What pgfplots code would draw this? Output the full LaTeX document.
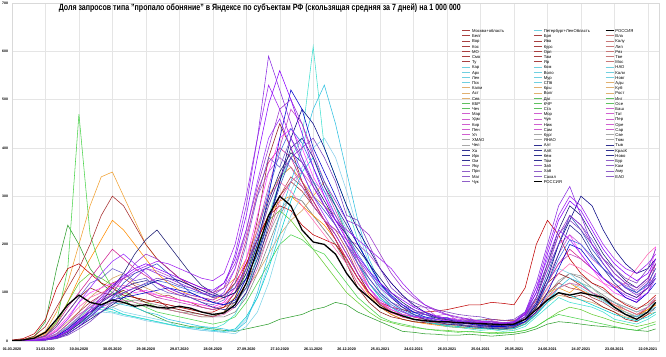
\documentclass[border=0pt]{standalone}
\usepackage{fontspec}
\setmainfont{Liberation Sans}
\usepackage{graphicx}
\usepackage{pgfplots}
\usepackage{pgfplotstable}
\pgfplotsset{compat=1.18}

\definecolor{cCa}{HTML}{C00000}
\definecolor{cCb}{HTML}{8B1A1A}
\definecolor{cCc}{HTML}{B03A48}
\definecolor{cNa}{HTML}{40E0D0}
\definecolor{cNb}{HTML}{30C0E0}
\definecolor{cNc}{HTML}{7FD4E8}
\definecolor{cSa}{HTML}{F0A030}
\definecolor{cSb}{HTML}{D2A060}
\definecolor{cGa}{HTML}{4CD34C}
\definecolor{cGb}{HTML}{2E9E2E}
\definecolor{cVa}{HTML}{FF40FF}
\definecolor{cVb}{HTML}{C040C0}
\definecolor{cVc}{HTML}{E060B0}
\definecolor{cUa}{HTML}{A0A0A0}
\definecolor{cUb}{HTML}{808080}
\definecolor{cBa}{HTML}{1F1F8F}
\definecolor{cBb}{HTML}{3050C0}
\definecolor{cBc}{HTML}{0000CD}
\definecolor{cPa}{HTML}{8A2BE2}
\definecolor{cPb}{HTML}{9932CC}
\definecolor{cPc}{HTML}{7B3FBF}
\definecolor{e1}{HTML}{9B30FF}
\definecolor{e2}{HTML}{6A5ACD}
\definecolor{e3}{HTML}{D02090}
\definecolor{e4}{HTML}{191970}
\definecolor{e5}{HTML}{BA55D3}
\definecolor{e6}{HTML}{00CED1}
\definecolor{e7}{HTML}{A52A2A}
\definecolor{e8}{HTML}{FF8C00}
\definecolor{e9}{HTML}{66CC33}
\definecolor{e10}{HTML}{FF69B4}
\definecolor{e11}{HTML}{000080}
\definecolor{e12}{HTML}{8B00FF}
\definecolor{e13}{HTML}{999999}
\definecolor{e14}{HTML}{87CEEB}
\definecolor{e15}{HTML}{A020F0}
\definecolor{e16}{HTML}{4169E1}
\definecolor{lC}{HTML}{A84040}
\definecolor{lC2}{HTML}{C87878}
\definecolor{lN}{HTML}{70D0E0}
\definecolor{lS}{HTML}{E0B070}
\definecolor{lG}{HTML}{60C060}
\definecolor{lV}{HTML}{D060D0}
\definecolor{lU}{HTML}{A8A8A8}
\definecolor{lB}{HTML}{303090}
\definecolor{lP}{HTML}{9060C8}

\pgfplotstableread{
d a b c
0 2 1 0
10 5 2 1
20 15 4 2
30 45 10 5
40 110 30 15
50 150 60 35
60 160 90 60
70 140 110 80
80 120 100 95
90 110 95 120
100 95 105 130
110 90 90 115
120 85 80 100
130 80 85 90
140 75 70 95
150 70 65 85
160 65 60 80
170 60 55 70
180 60 50 65
190 70 60 70
200 100 90 80
210 160 150 120
220 210 250 170
230 260 380 230
240 280 450 300
250 270 400 340
260 240 330 320
270 220 280 290
280 210 250 250
290 200 210 230
300 170 160 190
310 130 110 140
320 100 80 100
330 80 60 75
340 70 50 60
350 65 45 55
360 60 40 50
370 60 38 45
380 62 35 48
390 65 33 42
400 70 35 40
410 75 30 42
420 75 32 38
430 80 30 40
440 78 28 36
450 75 30 38
460 110 40 45
470 200 60 70
480 250 85 100
490 220 100 120
500 170 90 110
510 140 95 105
520 120 85 90
530 110 70 80
540 90 60 65
550 75 45 55
560 65 40 50
570 80 55 70
577 95 70 85
}\central

\pgfplotstableread{
d a b c
0 0 0 0
10 0 0 1
20 2 1 2
30 5 3 4
40 15 8 10
50 30 20 25
60 50 35 40
70 70 50 55
80 65 70 60
90 60 80 70
100 55 75 60
110 50 70 55
120 45 60 50
130 40 55 45
140 35 45 40
150 30 40 30
160 28 35 25
170 30 30 22
180 25 28 20
190 35 25 18
200 55 20 15
210 100 40 30
220 180 100 60
230 260 180 120
240 330 260 200
250 380 330 260
260 420 400 300
270 610 480 330
280 400 530 310
290 340 450 280
300 280 350 230
310 210 250 170
320 150 170 120
330 100 120 90
340 70 90 70
350 55 70 60
360 45 60 55
370 40 55 50
380 35 50 48
390 30 45 45
400 28 40 42
410 25 38 40
420 22 35 45
430 24 32 40
440 20 30 38
450 22 35 40
460 30 40 60
470 50 55 90
480 70 80 130
490 90 110 150
500 80 130 140
510 75 120 120
520 70 100 110
530 60 85 90
540 45 70 80
550 40 55 70
560 35 50 60
570 45 60 70
577 55 70 80
}\northwest

\pgfplotstableread{
d a b
0 1 0
10 3 1
20 8 3
30 20 8
40 60 20
50 120 40
60 200 60
70 280 90
80 340 110
90 350 130
100 300 140
110 250 120
120 200 110
130 170 100
140 150 90
150 130 85
160 120 80
170 110 70
180 100 65
190 110 70
200 130 90
210 170 110
220 230 140
230 300 180
240 340 220
250 360 250
260 330 270
270 300 300
280 330 280
290 280 260
300 220 220
310 160 170
320 110 120
330 80 90
340 60 70
350 50 60
360 45 50
370 40 45
380 38 40
390 35 38
400 30 35
410 32 30
420 28 28
430 30 30
440 25 26
450 30 28
460 45 35
470 70 55
480 100 80
490 110 95
500 100 90
510 120 85
520 110 80
530 90 70
540 75 60
550 60 50
560 50 45
570 65 55
577 75 60
}\south

\pgfplotstableread{
d a b
0 0 0
10 1 2
20 3 10
30 10 40
40 40 150
50 150 240
60 470 200
70 220 150
80 150 120
90 110 100
100 90 85
110 80 70
120 70 60
130 60 50
140 55 40
150 50 35
160 45 30
170 40 28
180 35 25
190 40 22
200 50 20
210 80 25
220 120 30
230 160 35
240 200 45
250 220 50
260 210 55
270 190 65
280 180 70
290 150 80
300 120 75
310 90 60
320 70 50
330 50 40
340 40 30
350 35 20
360 30 18
370 25 15
380 22 14
390 20 12
400 18 12
410 20 14
420 18 12
430 15 10
440 16 12
450 18 14
460 22 18
470 30 25
480 45 35
490 55 40
500 50 38
510 45 35
520 40 32
530 35 30
540 30 28
550 25 25
560 22 22
570 30 20
577 35 25
}\caucasus

\pgfplotstableread{
d a b c
0 0 0 0
10 1 1 0
20 3 2 2
30 8 6 5
40 25 15 12
50 50 35 25
60 80 55 45
70 100 70 60
80 110 85 70
90 120 95 80
100 110 100 85
110 100 110 80
120 105 100 75
130 95 90 70
140 90 85 65
150 85 80 60
160 80 75 55
170 75 70 50
180 70 65 50
190 80 75 55
200 110 100 70
210 170 150 100
220 260 230 150
230 350 320 220
240 420 400 290
250 440 480 330
260 400 450 350
270 340 380 320
280 300 320 280
290 260 270 240
300 210 220 200
310 160 170 150
320 110 130 110
330 80 100 80
340 65 80 60
350 55 70 50
360 50 60 45
370 48 55 40
380 45 50 38
390 42 48 35
400 40 45 33
410 38 43 30
420 35 40 30
430 33 42 28
440 32 38 27
450 35 40 30
460 50 55 40
470 90 80 60
480 150 120 90
490 200 160 110
500 220 180 120
510 180 170 115
520 150 150 100
530 120 130 90
540 100 110 75
550 90 90 65
560 80 80 55
570 120 100 70
577 195 140 90
}\volga

\pgfplotstableread{
d a b
0 0 0
10 1 0
20 2 1
30 5 3
40 12 8
50 30 20
60 50 35
70 70 50
80 90 60
90 100 70
100 95 80
110 90 85
120 85 80
130 80 75
140 75 70
150 70 65
160 65 60
170 60 55
180 55 50
190 60 50
200 80 60
210 130 90
220 200 140
230 280 200
240 340 260
250 360 300
260 330 290
270 290 260
280 250 230
290 210 200
300 170 160
310 130 120
320 100 90
330 75 70
340 60 55
350 50 45
360 45 40
370 40 38
380 38 35
390 35 30
400 33 28
410 32 27
420 30 25
430 30 26
440 28 24
450 32 25
460 45 35
470 70 55
480 110 90
490 140 120
500 130 140
510 120 130
520 100 110
530 85 95
540 70 80
550 60 65
560 50 55
570 65 60
577 80 75
}\ural

\pgfplotstableread{
d a b c
0 0 0 0
10 0 0 0
20 1 1 1
30 3 2 3
40 8 5 10
50 20 15 25
60 40 30 45
70 60 50 60
80 80 70 75
90 95 90 85
100 110 120 90
110 120 140 95
120 125 150 100
130 120 160 105
140 110 140 110
150 100 120 105
160 90 100 100
170 80 90 90
180 70 80 80
190 65 75 75
200 70 80 85
210 100 110 130
220 160 170 200
230 240 250 300
240 330 320 420
250 400 380 520
260 420 350 480
270 380 300 400
280 320 270 350
290 280 240 300
300 240 200 250
310 200 160 200
320 160 130 160
330 120 100 120
340 90 80 95
350 70 65 75
360 55 55 60
370 45 48 50
380 40 42 45
390 35 38 40
400 33 35 38
410 30 32 35
420 28 30 32
430 26 28 30
440 25 27 30
450 28 30 32
460 40 45 40
470 70 80 60
480 120 140 100
490 180 200 150
500 240 260 200
510 220 230 190
520 180 190 160
530 150 160 130
540 120 130 110
550 100 110 90
560 90 100 80
570 110 120 100
577 130 150 120
}\siberia

\pgfplotstableread{
d a b c
0 0 0 0
10 0 0 0
20 1 1 0
30 2 3 2
40 6 8 5
50 15 20 12
60 30 40 25
70 50 60 40
80 70 80 60
90 90 100 80
100 110 130 100
110 130 160 110
120 150 180 120
130 140 170 130
140 130 150 125
150 120 130 115
160 110 120 110
170 100 110 100
180 95 100 90
190 110 120 95
200 180 160 110
210 280 230 150
220 420 320 210
230 590 400 280
240 520 480 340
250 450 500 380
260 380 450 400
270 320 390 420
280 280 330 380
290 240 290 330
300 200 250 260
310 170 240 250
320 140 220 200
330 110 180 150
340 90 140 110
350 75 110 90
360 65 90 80
370 55 75 70
380 50 65 65
390 45 55 60
400 42 50 55
410 40 45 52
420 38 42 50
430 36 40 45
440 35 38 42
450 38 40 45
460 60 55 60
470 120 90 100
480 200 150 160
490 280 220 220
500 320 260 250
510 260 240 230
520 200 200 200
530 160 170 170
540 130 140 150
550 110 120 130
560 95 110 120
570 110 130 150
577 140 160 190
}\fareast

\pgfplotstableread{
d r
0 1
10 2
20 6
30 18
40 45
50 75
60 95
70 80
80 75
90 85
100 80
110 72
120 75
130 70
140 68
150 72
160 68
170 60
180 55
190 58
200 75
210 120
220 190
230 260
240 300
250 280
260 230
270 205
280 200
290 180
300 140
310 110
320 90
330 70
340 60
350 52
360 45
370 42
380 40
390 40
400 38
410 37
420 36
430 35
440 34
450 35
460 45
470 65
480 85
490 100
500 95
510 100
520 95
530 90
540 70
550 55
560 45
570 60
577 80
}\russia

% one value every 10 days, the last one on day 577
\newcommand{\ser}[2]{\addplot[#1] table[row sep=\\, header=false, x expr={min(10*\coordindex,577)}, y index=0]{#2};}
\newcommand{\LE}[2]{\addlegendimage{#1,line width=0.9bp}\addlegendentry{\makebox[60bp][l]{#2}}}

\begin{document}
\begin{tikzpicture}
\useasboundingbox (-12bp,-16bp) rectangle (654bp,341bp);
\begin{axis}[
  scale only axis, width=647bp, height=338bp,
  xmin=0, xmax=580, ymin=0, ymax=700,
  xtick={0,30,...,570},
  xticklabels={01.03.2020,31.03.2020,30.04.2020,30.05.2020,29.06.2020,29.07.2020,28.08.2020,27.09.2020,27.10.2020,26.11.2020,26.12.2020,25.01.2021,24.02.2021,26.03.2021,25.04.2021,25.05.2021,24.06.2021,24.07.2021,23.08.2021,22.09.2021},
  ytick={0,100,...,700},
  grid=major,
  major grid style={draw=black!10, line width=0.4bp},
  axis line style={draw=black!15, line width=0.4bp},
  tick style={draw=none},
  /pgf/number format/assume math mode=true,
  xticklabel style={font=\fontsize{3.7}{4}\selectfont\bfseries, anchor=center, yshift=-8bp},
  yticklabel style={font=\fontsize{3.5}{4}\selectfont\bfseries, anchor=east, inner sep=0.3bp, xshift=-3.5bp},
  legend columns=30, transpose legend,
  legend cell align=left,
  legend style={at={(0.6955,0.922)}, anchor=north west, draw=none, fill=none,
    inner sep=0pt, outer sep=0pt, row sep=0pt, column sep=0pt,
    nodes={inner sep=0pt, inner xsep=1.2bp, text height=3.1bp, text depth=2.1bp,
      font=\fontsize{4.2}{4.2}\selectfont}},
  legend image code/.code={\draw[#1] (0bp,1.4bp) -- (8bp,1.4bp);},
  every axis plot/.append style={line width=0.55bp, forget plot},
]
\addplot[cUa] table[x=d,y=a]{\ural};
\addplot[cUb] table[x=d,y=b]{\ural};
\ser{e13}{0\\0\\1\\4\\12\\28\\48\\65\\75\\80\\78\\75\\72\\68\\65\\60\\58\\55\\52\\58\\75\\110\\160\\220\\270\\300\\290\\260\\230\\200\\165\\130\\100\\78\\62\\50\\44\\40\\37\\34\\32\\30\\28\\27\\26\\28\\38\\60\\95\\125\\140\\135\\120\\105\\90\\78\\68\\75\\90\\}
\addplot[cSb] table[x=d,y=b]{\south};
\addplot[cSa] table[x=d,y=a]{\south};
\ser{e8}{0\\2\\6\\15\\40\\80\\130\\170\\210\\250\\230\\200\\170\\140\\120\\105\\95\\90\\85\\95\\120\\160\\210\\260\\290\\300\\280\\260\\240\\210\\170\\130\\95\\70\\55\\45\\40\\36\\33\\30\\28\\27\\26\\25\\24\\26\\35\\60\\90\\110\\120\\105\\95\\85\\75\\65\\55\\65\\75\\}
\addplot[cGb] table[x=d,y=b]{\caucasus};
\ser{e9}{0\\1\\4\\12\\35\\80\\120\\140\\130\\115\\100\\90\\80\\70\\65\\60\\55\\50\\50\\60\\90\\140\\200\\250\\270\\250\\220\\190\\160\\130\\100\\80\\60\\45\\38\\32\\28\\25\\23\\22\\20\\19\\18\\18\\17\\18\\22\\30\\45\\60\\70\\65\\55\\48\\40\\35\\30\\35\\40\\}
\addplot[cGa] table[x=d,y=a]{\caucasus};
\addplot[cCb] table[x=d,y=b]{\central};
\addplot[cCc] table[x=d,y=c]{\central};
\ser{e7}{1\\3\\10\\30\\70\\110\\150\\200\\260\\300\\280\\240\\200\\170\\150\\130\\115\\100\\90\\95\\120\\160\\210\\260\\300\\330\\310\\280\\250\\220\\180\\140\\100\\75\\60\\50\\45\\42\\40\\38\\40\\42\\44\\45\\43\\42\\55\\85\\120\\140\\130\\115\\100\\90\\80\\70\\60\\70\\85\\}
\addplot[cCa] table[x=d,y=a]{\central};
\addplot[cNc] table[x=d,y=c]{\northwest};
\ser{e14}{0\\0\\2\\5\\12\\25\\40\\52\\60\\58\\52\\48\\42\\38\\34\\30\\26\\22\\20\\18\\22\\45\\90\\160\\240\\310\\360\\400\\420\\380\\310\\230\\160\\110\\80\\62\\52\\45\\40\\36\\33\\30\\28\\26\\25\\27\\35\\55\\85\\110\\120\\110\\95\\82\\70\\60\\52\\58\\65\\}
\ser{e6}{0\\0\\1\\3\\10\\25\\45\\60\\70\\65\\55\\50\\45\\40\\35\\30\\28\\25\\22\\20\\25\\50\\90\\150\\220\\290\\350\\380\\330\\280\\220\\160\\120\\90\\70\\55\\45\\40\\36\\32\\30\\28\\26\\25\\24\\26\\35\\55\\80\\100\\95\\85\\75\\65\\55\\48\\42\\50\\60\\}
\addplot[cNb] table[x=d,y=b]{\northwest};
\addplot[cNa] table[x=d,y=a]{\northwest};
\addplot[cVc] table[x=d,y=c]{\volga};
\ser{e10}{0\\1\\3\\8\\22\\45\\70\\90\\100\\110\\115\\110\\100\\95\\90\\85\\80\\75\\70\\80\\110\\170\\240\\300\\330\\310\\280\\250\\220\\190\\160\\120\\90\\70\\58\\50\\45\\42\\40\\38\\36\\35\\33\\32\\31\\34\\48\\75\\110\\140\\160\\150\\135\\120\\110\\120\\150\\180\\195\\}
\ser{e3}{0\\1\\4\\12\\35\\70\\100\\130\\160\\190\\170\\150\\135\\120\\105\\95\\90\\85\\80\\90\\130\\210\\310\\370\\400\\380\\330\\290\\250\\210\\170\\130\\100\\80\\65\\55\\50\\45\\42\\40\\38\\36\\35\\33\\32\\36\\50\\80\\120\\160\\190\\170\\150\\130\\115\\100\\90\\110\\160\\}
\addplot[cVb] table[x=d,y=b]{\volga};
\addplot[cVa] table[x=d,y=a]{\volga};
\ser{e5}{0\\0\\1\\4\\12\\28\\50\\75\\95\\115\\130\\140\\150\\145\\135\\125\\115\\105\\100\\110\\150\\220\\300\\350\\380\\360\\320\\280\\250\\230\\210\\200\\180\\150\\120\\95\\72\\70\\52\\56\\42\\48\\36\\42\\33\\38\\50\\80\\130\\180\\220\\200\\170\\150\\130\\115\\105\\125\\170\\}
\addplot[cBa] table[x=d,y=a]{\siberia};
\ser{e16}{0\\0\\1\\3\\8\\20\\38\\55\\72\\88\\100\\110\\118\\125\\120\\112\\105\\98\\92\\95\\110\\150\\220\\310\\390\\440\\410\\360\\310\\260\\220\\180\\145\\115\\92\\75\\58\\60\\44\\48\\36\\42\\30\\36\\29\\34\\45\\75\\120\\170\\210\\200\\175\\150\\130\\112\\100\\115\\135\\}
\addplot[cBb] table[x=d,y=b]{\siberia};
\ser{e11}{0\\0\\1\\2\\6\\15\\30\\45\\60\\75\\90\\105\\115\\125\\130\\125\\115\\105\\95\\90\\100\\130\\180\\250\\330\\420\\480\\450\\400\\340\\280\\230\\190\\150\\120\\95\\75\\60\\50\\45\\40\\37\\34\\32\\30\\33\\45\\75\\130\\200\\250\\300\\280\\230\\190\\160\\140\\150\\170\\}
\addplot[cBc] table[x=d,y=c]{\siberia};
\ser{e4}{0\\0\\1\\3\\8\\18\\35\\55\\80\\110\\140\\180\\210\\230\\200\\170\\140\\115\\100\\90\\100\\140\\210\\290\\350\\390\\370\\330\\290\\250\\220\\190\\160\\130\\100\\80\\65\\55\\48\\44\\40\\38\\35\\33\\32\\35\\50\\90\\160\\230\\280\\260\\220\\180\\150\\125\\110\\130\\160\\}
\ser{e2}{0\\1\\3\\10\\30\\60\\90\\120\\130\\150\\140\\125\\130\\110\\100\\95\\90\\80\\75\\85\\120\\200\\300\\380\\360\\420\\380\\330\\280\\240\\200\\160\\120\\95\\75\\62\\50\\56\\44\\49\\38\\45\\34\\40\\33\\38\\50\\90\\150\\200\\260\\240\\210\\170\\140\\120\\100\\120\\150\\}
\addplot[cPc] table[x=d,y=c]{\fareast};
\ser{e1}{0\\0\\2\\6\\20\\45\\80\\110\\140\\165\\180\\160\\140\\120\\110\\100\\95\\90\\85\\100\\150\\230\\330\\420\\460\\400\\350\\300\\260\\220\\180\\140\\110\\85\\70\\60\\52\\48\\45\\42\\40\\38\\40\\37\\36\\40\\60\\110\\170\\230\\210\\180\\150\\130\\110\\95\\85\\100\\130\\}
\addplot[cPb] table[x=d,y=b]{\fareast};
\ser{e15}{0\\0\\1\\3\\8\\20\\38\\60\\85\\110\\130\\145\\155\\165\\160\\150\\140\\130\\125\\140\\200\\300\\420\\530\\480\\420\\370\\320\\280\\250\\230\\210\\190\\170\\150\\120\\95\\75\\62\\54\\48\\44\\41\\39\\37\\40\\58\\110\\190\\260\\300\\280\\240\\200\\170\\150\\140\\160\\180\\}
\ser{e12}{0\\0\\1\\3\\9\\22\\42\\65\\90\\115\\135\\150\\160\\150\\140\\130\\120\\110\\105\\120\\170\\260\\380\\490\\560\\500\\430\\360\\300\\250\\210\\175\\145\\120\\100\\85\\70\\60\\52\\47\\43\\40\\38\\36\\35\\38\\55\\100\\180\\250\\290\\270\\230\\190\\160\\140\\125\\140\\170\\}
\addplot[cPa] table[x=d,y=a]{\fareast};
\addplot[black, line width=1.3bp] table[x=d,y=r]{\russia};

% column 1
\LE{lC}{Москва+область}\LE{lC}{Белг}\LE{lC}{Вор}\LE{lC}{Кос}\LE{lC}{МО}\LE{lC}{Смо}\LE{lC}{Ту}
\LE{lN}{Кар}\LE{lN}{Арх}\LE{lN}{Лен}\LE{lN}{Пск}
\LE{lS}{Калм}\LE{lS}{Аст}\LE{lS}{Сев}
\LE{lG}{КБР}\LE{lG}{Чеч}
\LE{lV}{Мар}\LE{lV}{Удм}\LE{lV}{Кир}\LE{lV}{Пен}\LE{lV}{Ул}
\LE{lU}{ХМАО}\LE{lU}{Чел}
\LE{lB}{Ха}\LE{lB}{Ирк}\LE{lB}{Ом}
\LE{lP}{Яку}\LE{lP}{При}\LE{lP}{Маг}\LE{lP}{Чук}
% column 2
\LE{lN}{Петербург+ЛенОбласть}
\LE{lC}{Бря}\LE{lC}{Ива}\LE{lC}{Курс}\LE{lC}{Орл}\LE{lC}{Там}\LE{lC}{Яр}
\LE{lN}{Ком}\LE{lN}{Воло}\LE{lN}{Мур}\LE{lN}{СПб}
\LE{lS}{Кры}\LE{lS}{Волг}
\LE{lG}{Даг}\LE{lG}{КЧР}\LE{lG}{Ста}
\LE{lV}{Мор}\LE{lV}{Чув}\LE{lV}{Ниж}\LE{lV}{Сам}
\LE{lU}{Кург}\LE{lU}{ЯНАО}
\LE{lB}{Алт}\LE{lB}{АлК}\LE{lB}{Кем}\LE{lB}{Том}
\LE{lP}{Заб}\LE{lP}{Хаб}\LE{lP}{Сахал}
\addlegendimage{black,line width=1.3bp}\addlegendentry{\makebox[60bp][l]{РОССИЯ}}
% column 3
\addlegendimage{black,line width=1.3bp}\addlegendentry{\makebox[60bp][l]{РОССИЯ}}
\LE{lC2}{Вла}\LE{lC2}{Калу}\LE{lC2}{Лип}\LE{lC2}{Ряз}\LE{lC2}{Тве}\LE{lC2}{Мос}
\LE{lN}{НАО}\LE{lN}{Кали}\LE{lN}{Новг}
\LE{lS}{Ады}\LE{lS}{Куб}\LE{lS}{Рост}
\LE{lG}{Инг}\LE{lG}{Осе}
\LE{lV}{Баш}\LE{lV}{Тат}\LE{lV}{Пер}\LE{lV}{Оре}\LE{lV}{Сар}
\LE{lU}{Све}\LE{lU}{Тюм}
\LE{lB}{Тыв}\LE{lB}{КрасК}\LE{lB}{Ново}
\LE{lP}{Бур}\LE{lP}{Кам}\LE{lP}{Аму}\LE{lP}{ЕАО}

\node at (rel axis cs:0.383,0.985) {\resizebox{402bp}{\height}{\fontsize{9}{10}\selectfont\bfseries Доля запросов типа "пропало обоняние" в Яндексе по субъектам РФ (скользящая средняя за 7 дней) на 1 000 000}};
\end{axis}
\end{tikzpicture}
\end{document}
